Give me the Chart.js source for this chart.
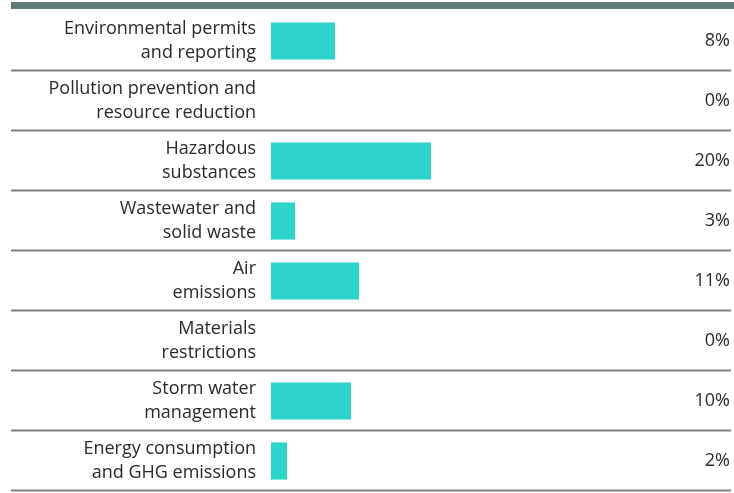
<!DOCTYPE html>
<html>
<head>
<meta charset="utf-8">
<script src="https://cdn.jsdelivr.net/npm/chart.js@4"></script>
<style>
  html, body { margin: 0; padding: 0; background: #fff; }
  #wrap { width: 734px; height: 493px; }
</style>
</head>
<body>
<div id="wrap"><canvas id="issuesChart" width="734" height="493"></canvas></div>
<script>
const categories = [
  ["Environmental permits", "and reporting"],
  ["Pollution prevention and", "resource reduction"],
  ["Hazardous", "substances"],
  ["Wastewater and", "solid waste"],
  ["Air", "emissions"],
  ["Materials", "restrictions"],
  ["Storm water", "management"],
  ["Energy consumption", "and GHG emissions"]
];
const shares = [8, 0, 20, 3, 11, 0, 10, 2];

const FONT = "'Open Sans', Lato, sans-serif";

// top band + row separators across full width, percent labels on the right
const rowsPlugin = {
  id: "rows",
  afterDraw(chart) {
    const c = chart.ctx;
    const area = chart.chartArea;
    const y = chart.scales.y;
    const step = (area.bottom - area.top) / categories.length;

    c.save();
    c.fillStyle = "#5f7a76";
    c.fillRect(11, 2, chart.width - 11, 7);

    c.strokeStyle = "#808080";
    c.lineWidth = 2;
    for (let i = 1; i <= categories.length; i++) {
      const yy = Math.round(area.top + step * i) - 0.5;
      c.beginPath();
      c.moveTo(11, yy);
      c.lineTo(731, yy);
      c.stroke();
    }

    c.fillStyle = "#2a2a2a";
    c.font = "18px " + FONT;
    c.textAlign = "right";
    c.textBaseline = "middle";
    shares.forEach((v, i) => {
      c.fillText(v + "%", area.right - 1, y.getPixelForValue(i));
    });
    c.restore();
  }
};

new Chart(document.getElementById("issuesChart").getContext("2d"), {
  type: "bar",
  data: {
    labels: categories,
    datasets: [{
      data: shares,
      backgroundColor: "#2dd4c9",
      borderWidth: 0,
      barPercentage: 0.62,
      categoryPercentage: 1
    }]
  },
  options: {
    indexAxis: "y",
    responsive: false,
    animation: false,
    layout: { padding: { top: 11, bottom: 2, left: 0, right: 3 } },
    plugins: { legend: { display: false }, tooltip: { enabled: false } },
    scales: {
      x: { display: false, min: 0, max: 57.5 },
      y: {
        grid: { display: false, drawTicks: false },
        border: { display: false },
        ticks: {
          color: "#2a2a2a",
          padding: 15,
          font: { family: FONT, size: 18, lineHeight: 1.33 }
        },
        afterFit(scale) {
          scale.width = 271;
          scale.paddingTop = 0;
          scale.paddingBottom = 0;
        }
      }
    }
  },
  plugins: [rowsPlugin]
});
</script>
</body>
</html>
